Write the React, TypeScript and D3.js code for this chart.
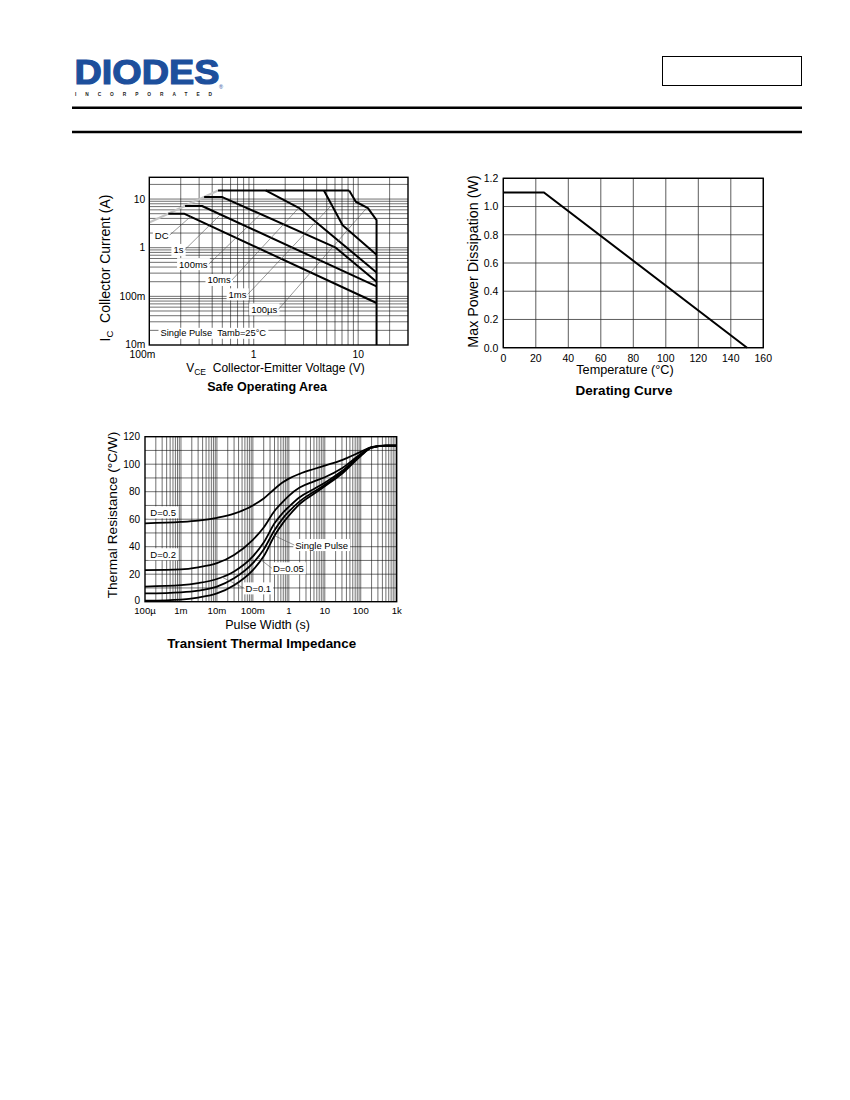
import React, { useEffect, useRef } from 'react';
import * as d3 from 'd3';

type Pt = [number, number];

// ---- Safe Operating Area (V, A) ----
const soaRceLine: Pt[] = [[0.1, 3.3], [0.455, 15]];
const soaPeak: Pt[] = [[0.455, 15], [8.2, 15]];
const soaDC: Pt[] = [[0.152, 5], [0.215, 5], [15, 0.073]];
const soa1s: Pt[] = [[0.22, 7.2], [0.32, 7.2], [15, 0.16]];
const soa100ms: Pt[] = [[0.335, 11], [0.5, 11], [6.1, 1.0], [15, 0.2]];
const soa10ms: Pt[] = [[1.3, 15], [2.7, 6.6], [15, 0.31]];
const soa1ms: Pt[] = [[4.7, 15], [7.1, 2.9], [15, 0.72]];
const soa100us: Pt[] = [[8.2, 15], [9.5, 8.8], [12.4, 6.5], [15, 3.7], [15, 0.01]];
const soaXTicks = [0.1, 1, 10];
const soaXTickLabels = ["100m", "1", "10"];
const soaYTicks = [0.01, 0.1, 1, 10];
const soaYTickLabels = ["10m", "100m", "1", "10"];
const soaLabelText = ["DC", "1s", "100ms", "10ms", "1ms", "100µs"];
const soaLabelAt: Pt[] = [[0.1315, 1.82], [0.19, 0.9], [0.264, 0.46], [0.466, 0.217], [0.7, 0.11], [1.26, 0.054]];
const soaLeaderTo: Pt[] = [[0.25, 4.4], [0.475, 4.7], [1.15, 4.8], [2.7, 6.6], [5.6, 7.6], [12.1, 6.6]];
const soaNoteAt: Pt = [0.41, 0.0174];

// ---- Derating curve ----
const deratingTemp = [0, 25, 150];
const deratingPower = [1.1, 1.1, 0];
const deratingXTicks = [0, 20, 40, 60, 80, 100, 120, 140, 160];
const deratingYTicks = [0, 0.2, 0.4, 0.6, 0.8, 1.0, 1.2];

// ---- Transient thermal impedance ----
const pulseWidth = [1e-4, 1e-3, 3e-3, 1e-2, 3e-2, 0.1, 0.2, 0.4, 0.7, 1, 2, 5, 10, 30, 100, 200, 500, 1000];
const zthD05 = [57, 58, 59, 61, 64, 70, 75, 82, 87, 89.5, 93, 96.5, 99, 103, 109, 112.5, 113.5, 113.5];
const zthD02 = [23, 23.5, 25, 28, 34, 45, 54, 66, 73, 77, 83, 87.5, 90.5, 97, 107.5, 112.5, 113.5, 113.5];
const zthD01 = [11, 12, 13.5, 16.5, 22, 33, 43, 57, 65, 69, 76, 82, 86.5, 95, 107, 112, 113.5, 113.5];
const zthD005 = [6, 6.8, 8, 11, 17, 28, 38, 52, 61, 65.5, 73, 80, 85, 94, 106.5, 112, 113.5, 113.5];
const zthSingle = [0.7, 1.5, 3, 6, 12, 23, 33, 48, 57.5, 62.5, 71, 78.5, 84, 93, 106, 112, 113.5, 113.5];
const zthXTicks = [1e-4, 1e-3, 1e-2, 1e-1, 1, 10, 100, 1000];
const zthXTickLabels = ["100µ", "1m", "10m", "100m", "1", "10", "100", "1k"];
const zthYTicks = [0, 20, 40, 60, 80, 100, 120];
const zthLabelText = ["D=0.5", "D=0.2", "Single Pulse", "D=0.05", "D=0.1"];
const zthLabelAt: Pt[] = [[3.2e-4, 65], [3.2e-4, 34.5], [8.2, 41.2], [0.97, 24.3], [0.142, 9.7]];
const zthLeaderTo: (Pt | null)[] = [null, null, [0.4, 48], [0.14, 32], [0.0135, 18]];

const FONT = "'Liberation Sans', Arial, Helvetica, sans-serif";

type Sel = d3.Selection<SVGGElement, unknown, null, undefined>;

function logGrid(min: number, max: number): number[] {
  const out: number[] = [];
  for (let e = Math.floor(Math.log10(min)); e <= Math.ceil(Math.log10(max)); e++) {
    for (let k = 1; k < 10; k++) {
      const v = k * Math.pow(10, e);
      if (v > min * 1.001 && v < max * 0.999) out.push(v);
    }
  }
  return out;
}

// text with a white box behind it, returns its bbox
function boxedLabel(g: Sel, x: number, y: number, text: string, size: number) {
  const bg = g.append("rect").attr("fill", "#fff");
  const t = g.append("text")
    .attr("x", x)
    .attr("y", y)
    .attr("text-anchor", "middle")
    .attr("dominant-baseline", "central")
    .attr("font-size", size)
    .style("white-space", "pre")
    .text(text);
  const b = (t.node() as SVGTextElement).getBBox();
  bg.attr("x", b.x - 2).attr("y", b.y - 0.5).attr("width", b.width + 4).attr("height", b.height + 1);
  return b;
}

function drawHeader(root: Sel) {
  root.append("text")
    .attr("x", 74.5)
    .attr("y", 83.5)
    .attr("font-size", 35.5)
    .attr("font-weight", "bold")
    .attr("fill", "#1d4f9c")
    .attr("stroke", "#1d4f9c")
    .attr("stroke-width", 1.2)
    .attr("textLength", 145)
    .attr("lengthAdjust", "spacingAndGlyphs")
    .text("DIODES");
  root.append("text")
    .attr("x", 219)
    .attr("y", 89)
    .attr("font-size", 5.5)
    .attr("fill", "#1d4f9c")
    .text("®");
  root.append("text")
    .attr("x", 75)
    .attr("y", 96)
    .attr("font-size", 4.8)
    .attr("font-weight", "bold")
    .attr("fill", "#222")
    .attr("textLength", 137)
    .attr("lengthAdjust", "spacing")
    .text("INCORPORATED");
  root.append("rect")
    .attr("x", 662.5).attr("y", 56.5).attr("width", 139).attr("height", 29)
    .attr("fill", "none").attr("stroke", "#000").attr("stroke-width", 1);
  [107.8, 132].forEach(yy => {
    root.append("line")
      .attr("x1", 72).attr("x2", 802).attr("y1", yy).attr("y2", yy)
      .attr("stroke", "#000").attr("stroke-width", 2.6);
  });
}

function drawSoa(root: Sel) {
  const box = { left: 149.3, right: 408, top: 177.3, bottom: 345 };
  const x = d3.scaleLog().domain([0.1, 30]).range([box.left, box.right]);
  const y = d3.scaleLog().domain([0.01, 28]).range([box.bottom, box.top]);
  const g = root.append("g");

  // grid
  logGrid(0.1, 30).forEach(v => {
    g.append("line").attr("x1", x(v)).attr("x2", x(v)).attr("y1", box.top).attr("y2", box.bottom)
      .attr("stroke", "#111").attr("stroke-width", 0.6);
  });
  logGrid(0.01, 28).forEach(v => {
    g.append("line").attr("x1", box.left).attr("x2", box.right).attr("y1", y(v)).attr("y2", y(v))
      .attr("stroke", "#111").attr("stroke-width", 0.6);
  });

  const line = d3.line<Pt>().x(d => x(d[0])).y(d => y(d[1]));

  g.append("path").attr("d", line(soaRceLine)).attr("fill", "none")
    .attr("stroke", "#c4c4c4").attr("stroke-width", 2.2);

  [soaPeak, soaDC, soa1s, soa100ms, soa10ms, soa1ms, soa100us].forEach(c => {
    g.append("path").attr("d", line(c)).attr("fill", "none")
      .attr("stroke", "#000").attr("stroke-width", 2).attr("stroke-linejoin", "round");
  });

  // labels + leaders
  soaLabelText.forEach((txt, i) => {
    const b = boxedLabel(g, x(soaLabelAt[i][0]), y(soaLabelAt[i][1]), txt, 9.5);
    g.append("line")
      .attr("x1", b.x + b.width + 1).attr("y1", b.y + b.height / 2)
      .attr("x2", x(soaLeaderTo[i][0])).attr("y2", y(soaLeaderTo[i][1]))
      .attr("stroke", "#555").attr("stroke-width", 0.6);
  });
  boxedLabel(g, x(soaNoteAt[0]), y(soaNoteAt[1]), "Single Pulse  Tamb=25°C", 9.3);

  g.append("rect").attr("x", box.left).attr("y", box.top)
    .attr("width", box.right - box.left).attr("height", box.bottom - box.top)
    .attr("fill", "none").attr("stroke", "#000").attr("stroke-width", 1.4);

  // ticks
  soaYTicks.forEach((v, i) => {
    g.append("text").attr("x", box.left - 4).attr("y", i === 0 ? y(v) + 2.8 : y(v) + 3.6)
      .attr("text-anchor", "end").attr("font-size", 10.3).text(soaYTickLabels[i]);
  });
  soaXTicks.forEach((v, i) => {
    g.append("text").attr("x", i === 0 ? x(v) + 6 : x(v)).attr("y", 357.5)
      .attr("text-anchor", i === 0 ? "end" : "middle").attr("font-size", 10.3).text(soaXTickLabels[i]);
  });

  // axis labels
  const yl = g.append("text")
    .attr("transform", `translate(110, 268) rotate(-90)`)
    .attr("text-anchor", "middle")
    .attr("font-size", 14)
    .style("white-space", "pre");
  yl.append("tspan").text("I");
  yl.append("tspan").attr("font-size", 9.5).attr("dy", 3).text("C");
  yl.append("tspan").attr("dy", -3).text("  Collector Current (A)");

  const xl = g.append("text")
    .attr("x", 275.5).attr("y", 371.5)
    .attr("text-anchor", "middle")
    .attr("font-size", 12)
    .style("white-space", "pre");
  xl.append("tspan").text("V");
  xl.append("tspan").attr("font-size", 8.5).attr("dy", 3).text("CE");
  xl.append("tspan").attr("dy", -3).text("  Collector-Emitter Voltage (V)");

  g.append("text").attr("x", 267).attr("y", 391).attr("text-anchor", "middle")
    .attr("font-size", 12.5).attr("font-weight", "bold").text("Safe Operating Area");
}

function drawDerating(root: Sel) {
  const box = { left: 503.3, right: 763.3, top: 178.3, bottom: 347.7 };
  const x = d3.scaleLinear().domain([0, 160]).range([box.left, box.right]);
  const y = d3.scaleLinear().domain([0, 1.2]).range([box.bottom, box.top]);
  const g = root.append("g");

  deratingXTicks.forEach(v => {
    g.append("line").attr("x1", x(v)).attr("x2", x(v)).attr("y1", box.top).attr("y2", box.bottom)
      .attr("stroke", "#333").attr("stroke-width", 0.8);
  });
  deratingYTicks.forEach(v => {
    g.append("line").attr("x1", box.left).attr("x2", box.right).attr("y1", y(v)).attr("y2", y(v))
      .attr("stroke", "#333").attr("stroke-width", 0.8);
  });

  const pts: Pt[] = deratingTemp.map((t, i) => [t, deratingPower[i]]);
  const line = d3.line<Pt>().x(d => x(d[0])).y(d => y(d[1]));
  g.append("path").attr("d", line(pts)).attr("fill", "none")
    .attr("stroke", "#000").attr("stroke-width", 2);

  g.append("rect").attr("x", box.left).attr("y", box.top)
    .attr("width", box.right - box.left).attr("height", box.bottom - box.top)
    .attr("fill", "none").attr("stroke", "#000").attr("stroke-width", 1.4);

  deratingYTicks.forEach(v => {
    g.append("text").attr("x", box.left - 5).attr("y", y(v) + 3.8)
      .attr("text-anchor", "end").attr("font-size", 10.5).text(d3.format(".1f")(v));
  });
  deratingXTicks.forEach(v => {
    g.append("text").attr("x", x(v)).attr("y", 361.5)
      .attr("text-anchor", "middle").attr("font-size", 10.5).text(String(v));
  });

  g.append("text")
    .attr("transform", `translate(478.3, 261.5) rotate(-90)`)
    .attr("text-anchor", "middle").attr("font-size", 14.3)
    .text("Max Power Dissipation (W)");
  g.append("text").attr("x", 625).attr("y", 373.5).attr("text-anchor", "middle")
    .attr("font-size", 12.7).text("Temperature (°C)");
  g.append("text").attr("x", 624).attr("y", 395).attr("text-anchor", "middle")
    .attr("font-size", 13.5).attr("font-weight", "bold").text("Derating Curve");
}

function drawThermal(root: Sel) {
  const box = { left: 145, right: 396.7, top: 436.7, bottom: 601.7 };
  const x = d3.scaleLog().domain([1e-4, 1e3]).range([box.left, box.right]);
  const y = d3.scaleLinear().domain([0, 120]).range([box.bottom, box.top]);
  const g = root.append("g");

  logGrid(1e-4, 1e3).forEach(v => {
    g.append("line").attr("x1", x(v)).attr("x2", x(v)).attr("y1", box.top).attr("y2", box.bottom)
      .attr("stroke", "#111").attr("stroke-width", 0.6);
  });
  d3.range(10, 120, 10).forEach(v => {
    g.append("line").attr("x1", box.left).attr("x2", box.right).attr("y1", y(v)).attr("y2", y(v))
      .attr("stroke", "#111").attr("stroke-width", 0.6);
  });

  const line = d3.line<Pt>().x(d => x(d[0])).y(d => y(d[1])).curve(d3.curveMonotoneX);
  [zthD05, zthD02, zthD01, zthD005, zthSingle].forEach(series => {
    const pts: Pt[] = pulseWidth.map((t, i) => [t, series[i]]);
    g.append("path").attr("d", line(pts)).attr("fill", "none")
      .attr("stroke", "#000").attr("stroke-width", 1.8);
  });

  zthLabelText.forEach((txt, i) => {
    const b = boxedLabel(g, x(zthLabelAt[i][0]), y(zthLabelAt[i][1]), txt, 9.5);
    const to = zthLeaderTo[i];
    if (to) {
      g.append("line")
        .attr("x1", b.x - 1).attr("y1", b.y + b.height / 2)
        .attr("x2", x(to[0])).attr("y2", y(to[1]))
        .attr("stroke", "#555").attr("stroke-width", 0.6);
    }
  });

  g.append("rect").attr("x", box.left).attr("y", box.top)
    .attr("width", box.right - box.left).attr("height", box.bottom - box.top)
    .attr("fill", "none").attr("stroke", "#000").attr("stroke-width", 1.4);

  zthYTicks.forEach(v => {
    g.append("text").attr("x", box.left - 5).attr("y", v === 0 ? y(v) + 2.6 : y(v) + 3.6)
      .attr("text-anchor", "end").attr("font-size", 10).text(String(v));
  });
  zthXTicks.forEach((v, i) => {
    g.append("text").attr("x", x(v)).attr("y", 613.5)
      .attr("text-anchor", "middle").attr("font-size", 9.6).text(zthXTickLabels[i]);
  });

  g.append("text")
    .attr("transform", `translate(117.3, 515) rotate(-90)`)
    .attr("text-anchor", "middle").attr("font-size", 13.7)
    .text("Thermal Resistance (°C/W)");
  g.append("text").attr("x", 267.5).attr("y", 629).attr("text-anchor", "middle")
    .attr("font-size", 12.5).text("Pulse Width (s)");
  g.append("text").attr("x", 261.7).attr("y", 648).attr("text-anchor", "middle")
    .attr("font-size", 13.4).attr("font-weight", "bold").text("Transient Thermal Impedance");
}

const App: React.FC = () => {
  const svgRef = useRef<SVGSVGElement>(null);

  useEffect(() => {
    if (!svgRef.current) return;
    const svg = d3.select(svgRef.current);
    svg.selectAll("*").remove();
    svg.append("rect").attr("width", 850).attr("height", 1100).attr("fill", "#fff");
    const root = svg.append("g") as unknown as Sel;
    drawHeader(root);
    drawSoa(root);
    drawDerating(root);
    drawThermal(root);
  }, []);

  return (
    <svg
      ref={svgRef}
      width={850}
      height={1100}
      style={{ position: 'absolute', left: 0, top: 0, fontFamily: FONT }}
    />
  );
};

export default App;
